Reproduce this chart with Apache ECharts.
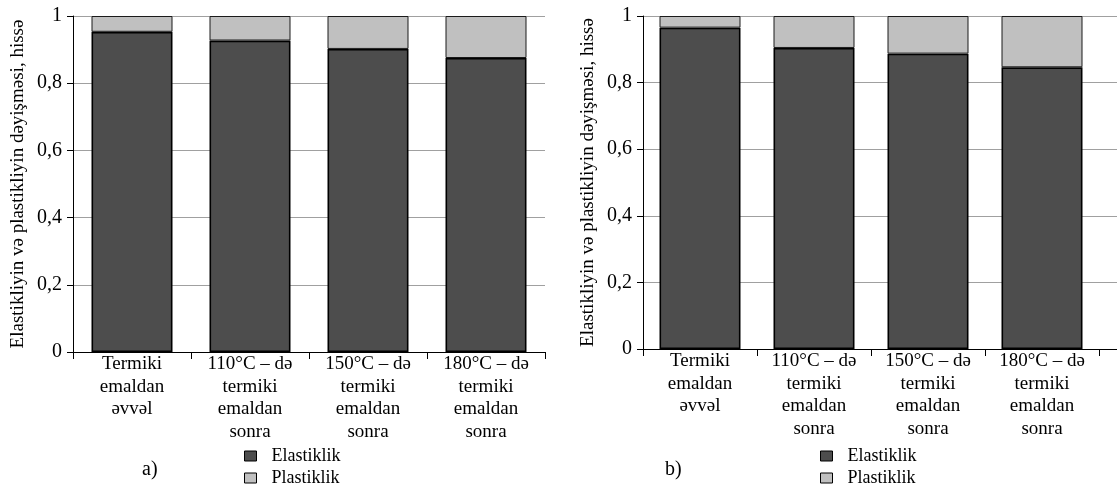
<!DOCTYPE html>
<html>
<head>
<meta charset="utf-8">
<style>
  html, body { margin: 0; padding: 0; background: #fff; }
  #chart { width: 1117px; height: 489px; }
</style>
<script src="https://cdn.jsdelivr.net/npm/echarts@6/dist/echarts.min.js"></script>
</head>
<body>
<div id="chart"></div>
<script>
// Category labels (shared by both panels)
const categories = [
  'Termiki\nemaldan\nəvvəl',
  '110°C – də\ntermiki\nemaldan\nsonra',
  '150°C – də\ntermiki\nemaldan\nsonra',
  '180°C – də\ntermiki\nemaldan\nsonra'
];

// Panel a) shares
const elasticA = [0.953, 0.927, 0.902, 0.875];
const plasticA = [0.047, 0.073, 0.098, 0.125];

// Panel b) shares
const elasticB = [0.965, 0.904, 0.887, 0.846];
const plasticB = [0.035, 0.096, 0.113, 0.154];

// Y tick labels use a decimal comma
const yTickLabels = { 0: '0', 0.2: '0,2', 0.4: '0,4', 0.6: '0,6', 0.8: '0,8', 1: '1' };

const yTitle = 'Elastikliyin və plastikliyin dəyişməsi, hissə';
const serif = '"Liberation Serif", "Times New Roman", serif';
const DARK = '#4d4d4d';
const LIGHT = '#c0c0c0';
const GRIDLINE = '#a0a0a0';

function xAxisFor(gridIndex, data) {
  return {
    type: 'category',
    gridIndex: gridIndex,
    data: data,
    boundaryGap: true,
    axisLine: { lineStyle: { color: '#000', width: 1 } },
    axisTick: { show: true, length: 7, lineStyle: { color: '#000' } },
    axisLabel: {
      interval: 0,
      margin: 1,
      color: '#000',
      fontFamily: serif,
      fontSize: 19,
      lineHeight: 22.5,
      align: 'center'
    },
    splitLine: { show: false }
  };
}

function yAxisFor(gridIndex) {
  return {
    type: 'value',
    gridIndex: gridIndex,
    min: 0,
    max: 1,
    interval: 0.2,
    name: yTitle,
    nameLocation: 'middle',
    nameRotate: 90,
    nameGap: 45,
    nameTextStyle: { color: '#000', fontFamily: serif, fontSize: 19 },
    axisLine: { show: true, lineStyle: { color: '#000', width: 1 } },
    axisTick: { show: true, length: 6, lineStyle: { color: '#000' } },
    axisLabel: {
      margin: 11,
      color: '#000',
      fontFamily: serif,
      fontSize: 20,
      formatter: v => yTickLabels[Math.round(v * 10) / 10] ?? String(v).replace('.', ',')
    },
    splitLine: { show: true, lineStyle: { color: GRIDLINE, width: 1 } }
  };
}

function stackPair(idx, elastic, plastic) {
  return [
    {
      name: 'Elastiklik',
      type: 'bar',
      xAxisIndex: idx,
      yAxisIndex: idx,
      stack: 'total' + idx,
      barWidth: 81,
      data: elastic,
      itemStyle: { color: DARK, borderColor: '#000', borderWidth: 1.6 },
      emphasis: { disabled: true }
    },
    {
      name: 'Plastiklik',
      type: 'bar',
      xAxisIndex: idx,
      yAxisIndex: idx,
      stack: 'total' + idx,
      barWidth: 81,
      data: plastic,
      itemStyle: { color: LIGHT, borderColor: '#1a1a1a', borderWidth: 1 },
      emphasis: { disabled: true }
    }
  ];
}

function legendAt(left) {
  return {
    orient: 'vertical',
    left: left,
    top: 446,
    padding: 0,
    icon: 'rect',
    itemWidth: 12,
    itemHeight: 10,
    itemGap: 2,
    selectedMode: false,
    data: ['Elastiklik', 'Plastiklik'],
    itemStyle: { borderColor: '#000', borderWidth: 1 },
    textStyle: {
      color: '#000',
      fontFamily: serif,
      fontSize: 18,
      lineHeight: 20,
      padding: [0, 0, 0, 10]
    }
  };
}

const chart = echarts.init(document.getElementById('chart'), null, { renderer: 'canvas' });

chart.setOption({
  animation: false,
  backgroundColor: '#fff',
  title: [
    { text: 'a)', left: 137, top: 455, textStyle: { fontFamily: serif, fontSize: 20, fontWeight: 'normal', color: '#000' } },
    { text: 'b)', left: 660, top: 455, textStyle: { fontFamily: serif, fontSize: 20, fontWeight: 'normal', color: '#000' } }
  ],
  legend: [legendAt(244), legendAt(820)],
  grid: [
    { left: 73, top: 16, width: 472, height: 336 },
    { left: 643, top: 16, width: 456, height: 333 },
    // narrow strip continuing the right panel's axis and gridlines to the page edge
    { left: 1099, top: 16, width: 18, height: 333 }
  ],
  xAxis: [
    xAxisFor(0, categories),
    xAxisFor(1, categories),
    {
      type: 'category',
      gridIndex: 2,
      data: [''],
      axisLine: { lineStyle: { color: '#000', width: 1 } },
      axisTick: { show: false },
      axisLabel: { show: false }
    }
  ],
  yAxis: [
    yAxisFor(0),
    yAxisFor(1),
    {
      type: 'value',
      gridIndex: 2,
      min: 0,
      max: 1,
      interval: 0.2,
      axisLine: { show: false },
      axisTick: { show: false },
      axisLabel: { show: false },
      splitLine: { show: true, lineStyle: { color: GRIDLINE, width: 1 } }
    }
  ],
  series: [
    ...stackPair(0, elasticA, plasticA),
    ...stackPair(1, elasticB, plasticB)
  ]
});
</script>
</body>
</html>
